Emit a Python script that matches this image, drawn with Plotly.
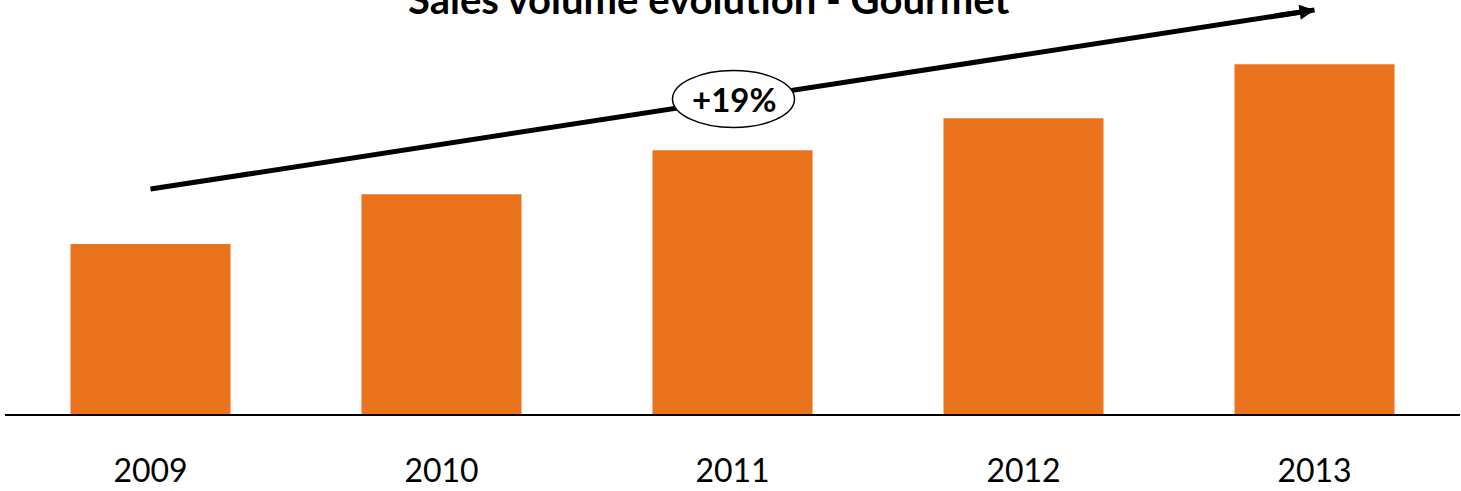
import plotly.graph_objects as go

years = ["2009", "2010", "2011", "2012", "2013"]
volume_index = [100, 129.4, 155.3, 174.1, 205.9]
growth_label = "+19%"
title_text = "Sales volume evolution - Gourmet"

# trend arrow levels (same units as volume index)
arrow_start = 132.4
arrow_end = 237.8
y_max = 243.7

bar_color = "#EC731D"

fig = go.Figure()
fig.add_trace(go.Bar(x=years, y=volume_index, marker=dict(color=bar_color, line=dict(width=0)),
                     hoverinfo="skip"))

n = len(years)
mid_idx = (n - 1) / 2
mid_y = arrow_start + (arrow_end - arrow_start) * 0.5 + 0.3

fig.add_shape(type="line", xref="x", yref="y", x0=0, y0=arrow_start, x1=n - 1, y1=arrow_end,
              line=dict(color="black", width=5), layer="above")
fig.add_shape(type="circle", xref="x", yref="y", xsizemode="pixel", ysizemode="pixel",
              xanchor=mid_idx, yanchor=mid_y, x0=-60, x1=62, y0=-28.5, y1=28.5,
              fillcolor="white", line=dict(color="black", width=1.5), layer="above")

fig.add_annotation(x=n - 1, y=arrow_end, xref="x", yref="y", text="", showarrow=True,
                   ax=-40, ay=6, arrowhead=2, arrowwidth=5, arrowsize=0.6, arrowcolor="black",
                   standoff=0)
fig.add_annotation(x=mid_idx, y=mid_y, xref="x", yref="y", text="<b>" + growth_label + "</b>",
                   showarrow=False, xshift=1, font=dict(family="Lato", size=33, color="black"))
fig.add_annotation(x=(709 - 5) / 1455, y=1, xref="paper", yref="paper", xanchor="center",
                   yanchor="bottom", yshift=-25, text="<b>" + title_text + "</b>", showarrow=False,
                   font=dict(family="Lato", size=40, color="black"))

fig.update_layout(
    width=1461, height=491,
    margin=dict(l=5, r=1, t=0, b=77, autoexpand=False),
    paper_bgcolor="white", plot_bgcolor="white",
    bargap=0.45, showlegend=False,
    font=dict(family="Lato", color="black"),
)
fig.update_xaxes(type="category", showline=True, linecolor="black", linewidth=2,
                 showgrid=False, zeroline=False, ticks="", ticklabelstandoff=28, automargin=False,
                 tickfont=dict(family="Lato", size=32, color="black"))
fig.update_yaxes(range=[0, y_max], visible=False, showgrid=False, zeroline=False, automargin=False)

fig.write_html("out.html", config={"displayModeBar": False})
